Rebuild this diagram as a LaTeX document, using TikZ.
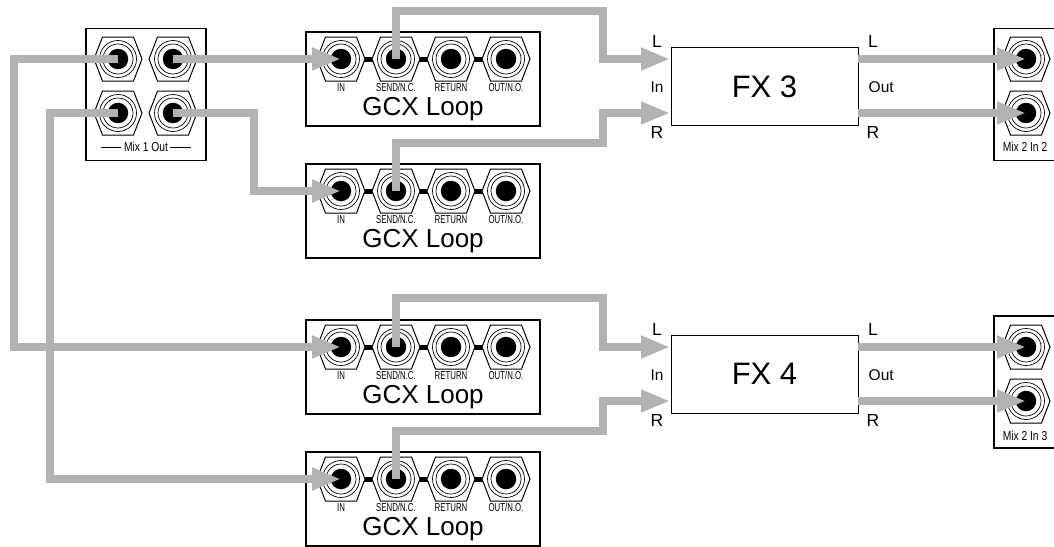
\documentclass[tikz,border=0pt]{standalone}
\usepackage{fontspec}
\usepackage{graphicx}
\setmainfont{Liberation Sans}
\usetikzlibrary{arrows.meta}
\definecolor{cablegray}{HTML}{B2B2B2}
\tikzset{
  panel/.style={draw=black,line width=1.6pt,fill=white,rectangle,inner sep=0pt},
  fxbox/.style={draw=black,line width=1pt,fill=white,rectangle,inner sep=0pt,minimum width=187pt,minimum height=78pt,font=\fontsize{31}{33}\selectfont},
  hole/.style={circle,fill=black,draw=none,minimum size=20.5pt,inner sep=0pt},
  ring/.style={draw=black,line width=0.7pt,fill=white},
  cable/.style={draw=cablegray,line width=7.8pt,line join=miter},
  arrowcable/.style={cable,-{Triangle[length=29pt,width=21pt]}},
  lab/.style={inner sep=0pt,font=\fontsize{17.5}{19}\selectfont},
  sublab/.style={inner sep=0pt,font=\fontsize{15.5}{17}\selectfont},
  tinylab/.style={inner sep=0pt,anchor=base,font=\fontsize{11.5}{12}\selectfont},
  midlab/.style={inner sep=0pt,font=\fontsize{13}{14}\selectfont},
  looplab/.style={inner sep=0pt,font=\fontsize{26}{28}\selectfont},
  tie/.style={draw=black,line width=5pt}
}
\newcommand{\jackat}[3]{%
  \draw[ring,line width=1pt] (#2-24,#3) -- (#2-15.5,#3-22) -- (#2+15.5,#3-22) -- (#2+24,#3) -- (#2+15.5,#3+22) -- (#2-15.5,#3+22) -- cycle;
  \draw[ring] (#2,#3) circle (18.5);
  \draw[ring] (#2,#3) circle (15);
  \node[hole] (#1) at (#2,#3) {};
}
\newcommand{\gcxpanel}[3]{% prefix, top of box, jack y
  \node[panel,minimum width=234pt,minimum height=94pt] (#1box) at (423,#2+47) {};
  \draw[tie] (363,#3) -- (374,#3);
  \draw[tie] (418,#3) -- (429,#3);
  \draw[tie] (473,#3) -- (484,#3);
  \jackat{#1a}{341}{#3}
  \jackat{#1b}{396}{#3}
  \jackat{#1c}{451}{#3}
  \jackat{#1d}{506}{#3}
  \node[tinylab] (#1la) at (341,#3+32) {\scalebox{.68}[1]{IN}};
  \node[tinylab] (#1lb) at (396,#3+32) {\scalebox{.68}[1]{SEND/N.C.}};
  \node[tinylab] (#1lc) at (451,#3+32) {\scalebox{.68}[1]{RETURN}};
  \node[tinylab] (#1ld) at (506,#3+32) {\scalebox{.68}[1]{OUT/N.O.}};
  \node[looplab] (#1t) at (423,#3+50) {GCX Loop};
}
\begin{document}
\begin{tikzpicture}[x=1pt,y=-1pt]
\useasboundingbox (0,0) rectangle (1054,546);
\clip (0,0) rectangle (1054,546);
% Mix 1 Out
\node[panel,minimum width=120.5pt,minimum height=132pt] (mixout) at (146,94.5) {};
\jackat{ma}{118}{59}
\jackat{mb}{173}{59}
\jackat{mc}{118}{113}
\jackat{md}{173}{113}
\node[midlab] (mixoutlab) at (146,147) {\scalebox{.79}[1]{Mix 1 Out}};
\draw[black,line width=.8pt] (101,147) -- (121,147);
\draw[black,line width=.8pt] (170,147) -- (191,147);
% GCX panels
\gcxpanel{ga}{32}{59}
\gcxpanel{gb}{164}{191}
\gcxpanel{gc}{320}{347}
\gcxpanel{gd}{452}{479}
% FX
\node[fxbox] (fxc) at (764.5,86.5) {FX 3};
\node[fxbox] (fxd) at (764.5,374) {FX 4};
% Mix 2 in panels
\node[panel,minimum width=80pt,minimum height=132pt] (inb) at (1034,94.5) {};
\jackat{ia}{1026}{59}
\jackat{ib}{1026}{113}
\node[midlab] (inblab) at (1025,147) {\scalebox{.79}[1]{Mix 2 In 2}};
\node[panel,minimum width=80pt,minimum height=132pt] (inc) at (1034,382) {};
\jackat{ic}{1026}{347}
\jackat{id}{1026}{401}
\node[midlab] (inclab) at (1025,435.5) {\scalebox{.79}[1]{Mix 2 In 3}};
% Labels
\node[lab] (l1) at (657,41) {L};
\node[sublab] (l2) at (657,87) {In};
\node[lab] (l3) at (657,132) {R};
\node[lab] (l4) at (873,41) {L};
\node[sublab,anchor=west] (l5) at (868.5,87) {Out};
\node[lab] (l6) at (873,132) {R};
\node[lab] (l7) at (657,329) {L};
\node[sublab] (l8) at (657,375) {In};
\node[lab] (l9) at (657,420) {R};
\node[lab] (l10) at (873,329) {L};
\node[sublab,anchor=west] (l11) at (868.5,375) {Out};
\node[lab] (l12) at (873,420) {R};
% Ports on FX boxes
\coordinate (fxcL) at (670,59);
\coordinate (fxcR) at (670,113);
\coordinate (fxdL) at (670,347);
\coordinate (fxdR) at (670,401);
\coordinate (fxcOL) at (858,59);
\coordinate (fxcOR) at (858,113);
\coordinate (fxdOL) at (858,347);
\coordinate (fxdOR) at (858,401);
% Bends
\coordinate (b1) at (14,59);
\coordinate (b2) at (14,347);
\coordinate (b3) at (50,113);
\coordinate (b4) at (50,479);
\coordinate (b5) at (254,113);
\coordinate (b6) at (254,191);
\coordinate (s1) at (396,11);
\coordinate (s2) at (603,11);
\coordinate (s3) at (603,59);
\coordinate (s4) at (396,143);
\coordinate (s5) at (603,143);
\coordinate (s6) at (603,113);
\coordinate (s7) at (396,298);
\coordinate (s8) at (603,298);
\coordinate (s9) at (603,347);
\coordinate (s10) at (396,431);
\coordinate (s11) at (603,431);
\coordinate (s12) at (603,401);
% Connectors
\draw[arrowcable] (ma.center) -- (b1) -- (b2) -- (gca.center);
\draw[arrowcable] (mc.center) -- (b3) -- (b4) -- (gda.center);
\draw[arrowcable] (mb.center) -- (gaa.center);
\draw[arrowcable] (md.center) -- (b5) -- (b6) -- (gba.center);
\draw[arrowcable] (gab.center) -- (s1) -- (s2) -- (s3) -- (fxcL);
\draw[arrowcable] (gbb.center) -- (s4) -- (s5) -- (s6) -- (fxcR);
\draw[arrowcable] (gcb.center) -- (s7) -- (s8) -- (s9) -- (fxdL);
\draw[arrowcable] (gdb.center) -- (s10) -- (s11) -- (s12) -- (fxdR);
\draw[arrowcable] (fxcOL) -- (ia.center);
\draw[arrowcable] (fxcOR) -- (ib.center);
\draw[arrowcable] (fxdOL) -- (ic.center);
\draw[arrowcable] (fxdOR) -- (id.center);
\end{tikzpicture}
\end{document}
